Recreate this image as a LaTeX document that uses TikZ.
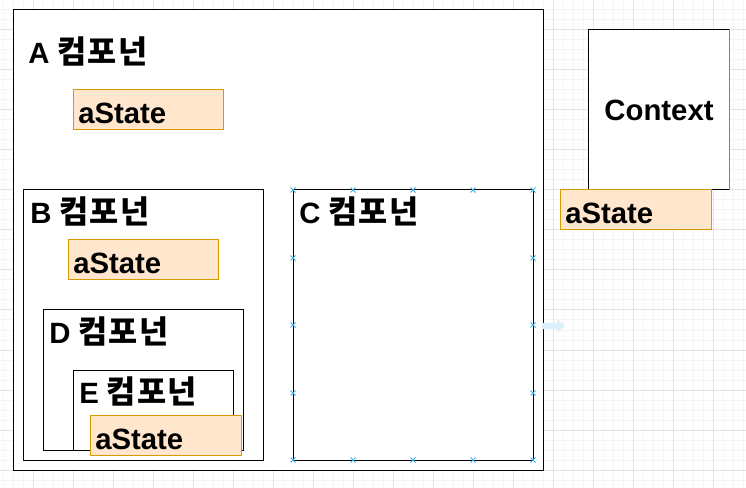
\documentclass[tikz,border=0pt]{standalone}
\usepackage{fontspec}
\setmainfont{Liberation Sans}
\newfontfamily\kr{Noto Sans CJK KR}[Scale=1.08, LetterSpace=4]
\usetikzlibrary{fit}
\definecolor{gridmin}{HTML}{F5F5F5}
\definecolor{gridmaj}{HTML}{E4E4E4}
\definecolor{stfill}{HTML}{FFE6CC}
\definecolor{stdraw}{HTML}{D79B00}
\definecolor{selblue}{HTML}{3BB2E8}
\definecolor{ghost}{HTML}{DCF1FC}
\tikzset{
  x=0.75pt, y=-0.75pt,
  comp/.style={draw=black, fill=white, line width=0.75pt, inner sep=0pt},
  statebox/.style={draw=stdraw, fill=stfill, line width=0.75pt, inner sep=0pt},
  lbl/.style={anchor=base west, inner sep=0pt, font=\bfseries\fontsize{22}{24}\selectfont},
  selmark/.style={draw=selblue, line width=0.7pt},
}
\newcommand\cmp{{\kr\bfseries 컴포넌}}
\begin{document}
\begin{tikzpicture}
\useasboundingbox (0,0) rectangle (746,488);
\fill[white] (0,0) rectangle (746,488);
% grid
\foreach \gx in {3,13,...,743} \draw[gridmin, line width=0.75pt] (\gx,0) -- (\gx,488);
\foreach \gy in {0,10,...,480} \draw[gridmin, line width=0.75pt] (0,\gy) -- (746,\gy);
\foreach \gx in {33,73,...,713} \draw[gridmaj, line width=0.75pt] (\gx,0) -- (\gx,488);
\foreach \gy in {30,70,...,470} \draw[gridmaj, line width=0.75pt] (0,\gy) -- (746,\gy);

% A component
\node[comp, fit={(13,10) (543,470)}] (A) {};
\node[lbl] (Alab) at (28,64) {A \cmp};
\node[statebox, fit={(73,90) (223,130)}] (sA) {};
\node[lbl] (sAt) at (78,124) {aState};

% B component
\node[comp, fit={(23,190) (263,460)}] (B) {};
\node[lbl] (Blab) at (30,224) {B \cmp};
\node[statebox, fit={(68,240) (218,280)}] (sB) {};
\node[lbl] (sBt) at (73,274) {aState};

% D component
\node[comp, fit={(43,310) (243,450)}] (D) {};
\node[lbl] (Dlab) at (49,344) {D \cmp};

% E component
\node[comp, fit={(73,370) (233,450)}] (E) {};
\node[lbl] (Elab) at (79,403) {E \cmp};
\node[statebox, fit={(90,415) (241,455)}] (sE) {};
\node[lbl] (sEt) at (95,449) {aState};

% C component
\node[comp, fit={(293,190) (533,460)}] (C) {};
\node[lbl] (Clab) at (299,224) {C \cmp};
\foreach \mx/\my in {293/190,353/190,413/190,473/190,533/190,
                     293/460,353/460,413/460,473/460,533/460,
                     293/258,293/325,293/393,533/258,533/325,533/393}{
  \draw[selmark] (\mx-2.5,\my-2.5) -- (\mx+2.5,\my+2.5) (\mx-2.5,\my+2.5) -- (\mx+2.5,\my-2.5);
}
\fill[ghost] (542,323) -- (557,323) -- (557,319) -- (565,326) -- (557,333) -- (557,329) -- (542,329) -- cycle;

% Context
\node[comp, fit={(588,30) (729,190)}] (ctx) {};
\draw[gray, line width=1.4pt] (ctx.north east) -- (ctx.south east);
\node[anchor=base, inner sep=0pt, font=\bfseries\fontsize{22}{24}\selectfont] (ctxt) at (659,121) {Context};
\node[statebox, fit={(560,190) (711,230)}] (sCtx) {};
\node[lbl] (sCtxt) at (565,224) {aState};
\end{tikzpicture}
\end{document}
